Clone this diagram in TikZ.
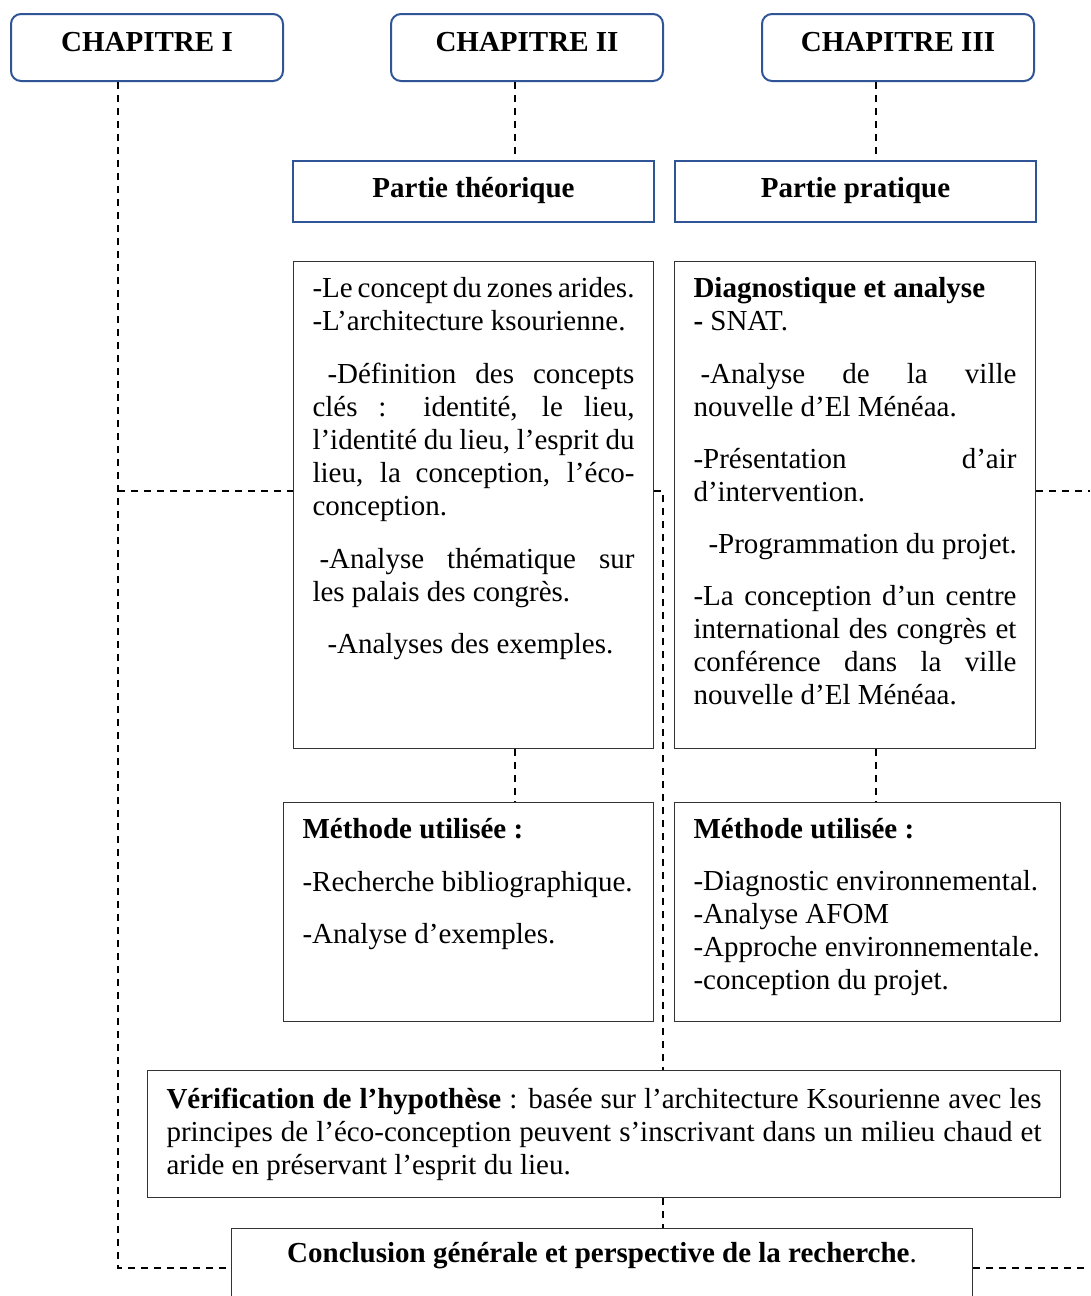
\documentclass[tikz,border=0pt]{standalone}
\usepackage{fontspec}
\setmainfont{Liberation Serif}
\definecolor{wordblue}{RGB}{47,85,151}
\newcommand\fsz{\fontsize{29}{33}\selectfont}
\newcommand\JL[1]{\makebox[\linewidth][s]{#1}}
\newcommand\IJL[2]{\hspace*{#1}\makebox[\dimexpr\linewidth-#1\relax][s]{#2}}
\begin{document}
\begin{tikzpicture}[x=1pt,y=-1pt,
  every node/.style={font=\fsz},
  chap/.style={draw=wordblue, line width=2pt, rounded corners=10pt, minimum width=272pt, minimum height=67pt, inner sep=0pt, text height=37.6pt, text depth=29.4pt, font=\fsz\bfseries, anchor=north west},
  part/.style={draw=wordblue, line width=2pt, minimum width=361pt, minimum height=61pt, inner sep=0pt, text height=36pt, text depth=25pt, font=\fsz\bfseries, anchor=north west},
  cbox/.style={draw=black!80, line width=1pt, inner xsep=19pt, inner ysep=12.5pt, anchor=north west, align=left},
  conn/.style={draw=black, line width=1.5pt, dash pattern=on 7pt off 6pt}
]
\useasboundingbox (0,0) rectangle (1090,1296);
\clip (0,0) rectangle (1090,1296);
\fill[white] (0,0) rectangle (1090,1296);

% chapters
\node[chap] (ch1) at (10,13) {CHAPITRE I};
\node[chap] (ch2) at (390,13) {CHAPITRE II};
\node[chap] (ch3) at (761,13) {CHAPITRE III};

% parts
\node[part] (ptheo) at (292,160) {Partie théorique};
\node[part] (pprat) at (674,160) {Partie pratique};

% content boxes
\node[cbox] (theo) at (293,261) {\parbox[t][462pt][t]{322pt}{\fsz
\strut\JL{-Le concept du zones arides.}\\
\mbox{-L’architecture ksourienne.}\\[20pt]
\IJL{15pt}{-Définition des concepts}\\
\JL{clés : identité, le lieu,}\\
\JL{l’identité du lieu, l’esprit du}\\
\JL{lieu, la conception, l’éco-}\\
\mbox{conception.}\\[20pt]
\IJL{7pt}{-Analyse thématique sur}\\
\mbox{les palais des congrès.}\\[19pt]
\hspace*{15pt}\mbox{-Analyses des exemples.}}};

\node[cbox] (prat) at (674,261) {\parbox[t][462pt][t]{323pt}{\fsz
\strut\mbox{\textbf{Diagnostique et analyse}}\\
\mbox{\textbf{-} SNAT.}\\[20pt]
\IJL{7pt}{-Analyse de la ville}\\
\mbox{nouvelle d’El Ménéaa.}\\[19pt]
\JL{-Présentation d’air}\\
\mbox{d’intervention.}\\[19pt]
\hspace*{15pt}\mbox{-Programmation du projet.}\\[19pt]
\JL{-La conception d’un centre}\\
\JL{international des congrès et}\\
\JL{conférence dans la ville}\\
\mbox{nouvelle d’El Ménéaa.}}};

% method boxes
\node[cbox] (mth) at (283,802) {\parbox[t][194pt][t]{332pt}{\fsz
\strut\mbox{\textbf{Méthode utilisée :}}\\[20pt]
\mbox{-Recherche bibliographique.}\\[19pt]
\mbox{-Analyse d’exemples.}}};

\node[cbox] (mpr) at (674,802) {\parbox[t][194pt][t]{348pt}{\fsz
\strut\mbox{\textbf{Méthode utilisée :}}\\[19pt]
\mbox{-Diagnostic environnemental.}\\
\mbox{-Analyse AFOM}\\
\mbox{-Approche environnementale.}\\
\mbox{-conception du projet.}}};

% verification
\node[cbox, inner ysep=15pt] (verif) at (147,1070) {\parbox[t][97pt][t]{875pt}{\fsz
\strut\JL{\textbf{Vérification de l’hypothèse} : basée sur l’architecture Ksourienne avec les}\\
\JL{principes de l’éco-conception peuvent s’inscrivant dans un milieu chaud et}\\
\mbox{aride en préservant l’esprit du lieu.}}};

% conclusion
\node[draw=black!80, line width=1pt, anchor=north west, minimum width=741pt, inner sep=0pt, text height=34pt, text depth=66pt] (concl) at (231,1228) {\textbf{Conclusion générale et perspective de la recherche}.};

% helper coordinates
\coordinate (xA) at (118,0);
\coordinate (xB) at (515,0);
\coordinate (xC) at (876,0);
\coordinate (xD) at (663,0);
\coordinate (yM) at (0,491);
\coordinate (yC) at (0,1268);
\coordinate (edge) at (1090,0);

% connectors
\draw[conn] (ch1.south -| xA) -- (xA |- yC) -- (concl.west |- yC);
\draw[conn] (xA |- yM) -- (theo.west |- yM);
\draw[conn] (ch2.south -| xB) -- (ptheo.north -| xB);
\draw[conn] (ch3.south -| xC) -- (pprat.north -| xC);
\draw[conn] (theo.south -| xB) -- (mth.north -| xB);
\draw[conn] (prat.south -| xC) -- (mpr.north -| xC);
\draw[conn] (theo.east |- yM) -- (xD |- yM) -- (verif.north -| xD);
\draw[conn] (verif.south -| xD) -- (concl.north -| xD);
\draw[conn] (prat.east |- yM) -- (edge |- yM);
\draw[conn] (concl.east |- yC) -- (edge |- yC);
\end{tikzpicture}
\end{document}
